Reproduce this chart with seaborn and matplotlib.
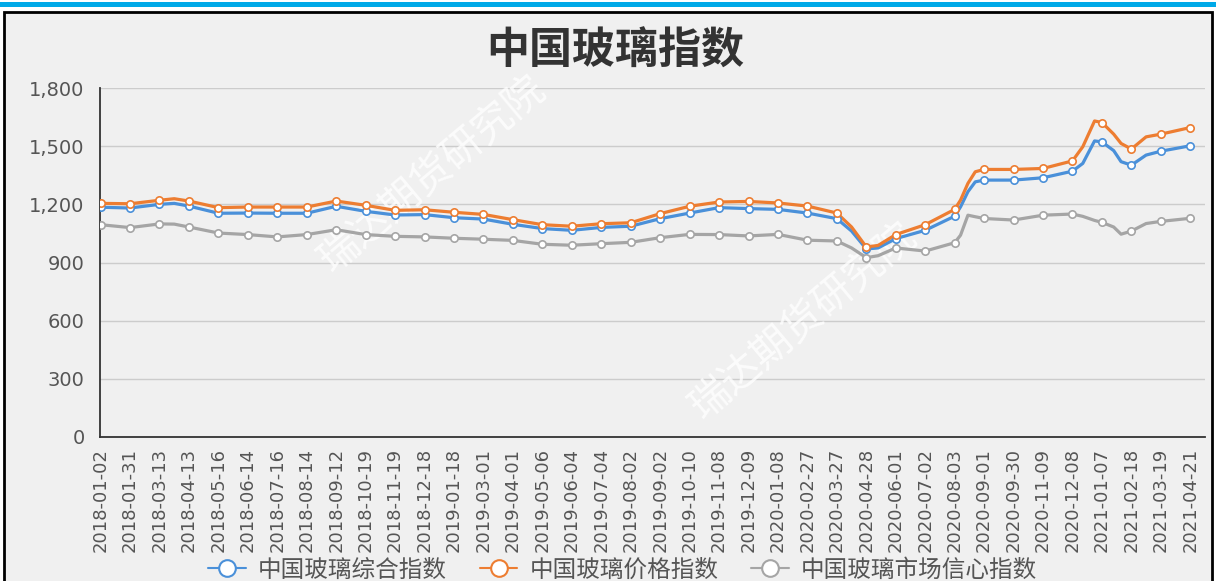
import numpy as np
import pandas as pd
import matplotlib
matplotlib.use("Agg")
import matplotlib.pyplot as plt
from matplotlib.lines import Line2D
from matplotlib.patches import Rectangle
from matplotlib.ticker import FuncFormatter, MultipleLocator
import seaborn as sns

# tick labels (one per marker)
dates = ['2018-01-02', '2018-01-31', '2018-03-13', '2018-04-13', '2018-05-16', '2018-06-14',
         '2018-07-16', '2018-08-14', '2018-09-12', '2018-10-19', '2018-11-19', '2018-12-18',
         '2019-01-18', '2019-03-01', '2019-04-01', '2019-05-06', '2019-06-04', '2019-07-04',
         '2019-08-02', '2019-09-02', '2019-10-10', '2019-11-08', '2019-12-09', '2020-01-08',
         '2020-02-27', '2020-03-27', '2020-04-28', '2020-06-01', '2020-07-02', '2020-08-03',
         '2020-09-01', '2020-09-30', '2020-11-09', '2020-12-08', '2021-01-07', '2021-02-18',
         '2021-03-19', '2021-04-21']

# x position on the category axis (integers = labelled dates, fractions = days in between)
pos = [0, 1, 2, 2.5, 3, 4, 5, 6, 7, 8, 9, 10, 11, 12, 13, 14, 15, 16, 17, 18, 19, 20,
       21, 22, 23, 24, 25, 25.5, 26, 26.4, 27, 28, 29, 29.2, 29.45, 29.7, 30, 31, 32, 33,
       33.35, 33.75, 34, 34.4, 34.65, 35, 35.5, 36, 37]

composite = [1185, 1181, 1200, 1205, 1191, 1154, 1155, 1154, 1154, 1190, 1164, 1145, 1147,
             1131, 1124, 1097, 1075, 1066, 1081, 1087, 1126, 1155, 1183, 1178, 1174, 1155,
             1126, 1062, 970, 975, 1023, 1066, 1139, 1187, 1265, 1316, 1325, 1325, 1337,
             1371, 1411, 1527, 1522, 1477, 1420, 1402, 1454, 1474, 1502]

price = [1205, 1203, 1221, 1229, 1217, 1183, 1186, 1186, 1186, 1217, 1195, 1169, 1172,
         1159, 1148, 1121, 1095, 1087, 1100, 1105, 1152, 1190, 1212, 1215, 1207, 1191,
         1155, 1083, 980, 988, 1044, 1095, 1174, 1222, 1308, 1368, 1380, 1380, 1385,
         1424, 1497, 1630, 1622, 1562, 1514, 1485, 1548, 1562, 1596]

confidence = [1095, 1080, 1099, 1098, 1083, 1052, 1044, 1032, 1044, 1069, 1044, 1035, 1032,
              1025, 1020, 1014, 994, 989, 997, 1004, 1028, 1045, 1044, 1037, 1045, 1015,
              1011, 975, 925, 935, 975, 959, 1002, 1041, 1144, 1136, 1127, 1119, 1144,
              1150, 1138, 1117, 1107, 1083, 1046, 1062, 1101, 1112, 1128]

names = ['中国玻璃综合指数', '中国玻璃价格指数', '中国玻璃市场信心指数']
colors = ['#4A90D9', '#ED7D31', '#A5A5A5']

df = pd.DataFrame({'pos': pos, names[0]: composite, names[1]: price, names[2]: confidence})
long = df.melt(id_vars='pos', var_name='series', value_name='value')
marks = long[long['pos'] % 1 == 0]

sns.set_style("white")
plt.rcParams['font.family'] = ['DejaVu Sans', 'Noto Sans CJK SC']

W, H = 1216, 581
fig = plt.figure(figsize=(W / 100, H / 100), dpi=100, facecolor='white')

# outer frame: cyan strip + black bordered grey panel
fig.patches.append(Rectangle((0, 1 - 7 / H), 1, 5 / H, transform=fig.transFigure,
                             facecolor='#00A9E8', edgecolor='none', zorder=-10))
fig.patches.append(Rectangle((4 / W, -0.05), 1208 / W, 1.05 - 12.5 / H, transform=fig.transFigure,
                             facecolor='#F0F0F0', edgecolor='black', linewidth=2, zorder=-10))

ax = fig.add_axes([100 / W, (H - 437) / H, 1105 / W, 349 / H])
ax.set_zorder(1)
ax.set_facecolor('none')

palette = dict(zip(names, colors))
sns.lineplot(data=long, x='pos', y='value', hue='series', palette=palette, linewidth=2.3,
             legend=False, ax=ax, zorder=3)
for n, c in zip(names, colors):
    sub = marks[marks['series'] == n]
    sns.scatterplot(data=sub, x='pos', y='value', color='white', edgecolor=c, linewidth=1.2,
                    s=28, ax=ax, zorder=4, legend=False)

ax.set_xlim(-0.02, 37.3)
ax.set_ylim(0, 1800)
ax.yaxis.set_major_locator(MultipleLocator(300))
ax.yaxis.set_major_formatter(FuncFormatter(lambda v, p: f'{int(v):,}'))
ax.set_xticks(range(len(dates)))
ax.set_xticklabels(dates, rotation=90, fontsize=13, color='#555555')
ax.set_xticks(np.arange(0.5, len(dates), 1), minor=True)
ax.tick_params(axis='x', which='major', length=0, pad=8)
ax.tick_params(axis='x', which='minor', length=5, width=1, color='#333333', direction='out')
ax.tick_params(axis='y', length=5, width=1, color='#333333', labelsize=14, labelcolor='#555555',
               direction='out', pad=6)
ax.set_xlabel('')
ax.set_ylabel('')
ax.yaxis.grid(True, color='#CCCCCC', linewidth=1)
ax.xaxis.grid(False)
ax.set_axisbelow(True)
for s in ['top', 'right']:
    ax.spines[s].set_visible(False)
for s in ['left', 'bottom']:
    ax.spines[s].set_color('#333333')
    ax.spines[s].set_linewidth(1.3)

fig.text(615 / W, 1 - 51 / H, '中国玻璃指数', ha='center', va='center', fontsize=31,
         fontweight='bold', color='#333333', family=['Noto Sans CJK SC'])

# watermarks (inside the axes, under the lines)
for cx, cy in [(432, 175), (803, 322)]:
    ax.text(cx / W, 1 - cy / H, '瑞达期货研究院', ha='center', va='center', fontsize=29,
            rotation=40, color='white', alpha=0.8, family=['Noto Sans CJK SC'], zorder=2,
            transform=fig.transFigure)

handles = [Line2D([0], [0], color=c, linewidth=1.5, marker='o', markersize=12,
                  markerfacecolor='white', markeredgecolor=c, markeredgewidth=1.5) for c in colors]
leg = fig.legend(handles, names, loc='center', bbox_to_anchor=(0.512, 1 - 570 / H), ncol=3,
                 frameon=False, handlelength=1.6, handletextpad=0.5,
                 columnspacing=1.4, prop={'family': ['Noto Sans CJK SC'], 'size': 17})
for t in leg.get_texts():
    t.set_color('#555555')

fig.savefig('out.png', dpi=100, facecolor='white')
